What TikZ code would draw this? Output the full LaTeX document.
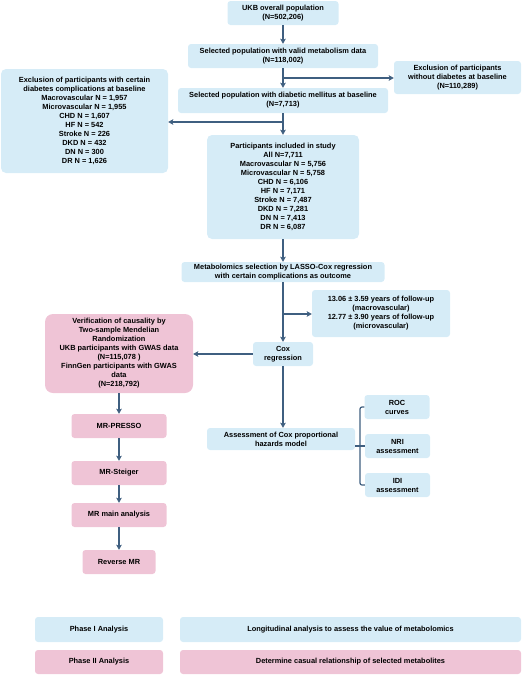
\documentclass[tikz,border=0pt]{standalone}
\usepackage{fontspec}
\setmainfont{Liberation Sans}
\usetikzlibrary{arrows.meta}
\definecolor{boxblue}{HTML}{D6ECF7}
\definecolor{boxpink}{HTML}{EFC4D6}
\definecolor{arrblue}{HTML}{3F5F80}

\begin{document}
\begin{tikzpicture}[x=1pt,y=-1pt,
    blu/.style={fill=boxblue,rounded corners=3pt,inner sep=1pt,align=center,
      font=\fontsize{7.4}{9}\selectfont\bfseries},
    pnk/.style={blu,fill=boxpink},
    arr/.style={draw=arrblue,line width=1.2pt,-{Stealth[length=5pt,width=5.5pt,inset=1pt]}},
    lin/.style={draw=arrblue,line width=1.2pt}]
  \useasboundingbox (0,0) rectangle (522,675);
  % phase I: cohort
  \node[blu,minimum width=111pt,minimum height=24pt] (ukb) at (283,13) {UKB overall population\\(N=502,206)};
  \node[blu,minimum width=190pt,minimum height=24pt] (valid) at (283,56) {Selected population with valid metabolism data\\(N=118,002)};
  \node[blu,minimum width=127pt,minimum height=33pt] (nodiab) at (457.5,77.5) {Exclusion of participants\\without diabetes at baseline\\(N=110,289)};
  \node[blu,minimum width=210pt,minimum height=25pt] (diab) at (283,100.5) {Selected population with diabetic mellitus at baseline\\(N=7,713)};
  \node[blu,rounded corners=5pt,minimum width=167pt,minimum height=104pt] (compl) at (84.5,121) {Exclusion of participants with certain\\diabetes complications at baseline\\Macrovascular N = 1,957\\Microvascular N = 1,955\\CHD N = 1,607\\HF N = 542\\Stroke N = 226\\DKD N = 432\\DN N = 300\\DR N = 1,626};
  \node[blu,rounded corners=5pt,minimum width=152pt,minimum height=104pt] (incl) at (283,187) {Participants included in study\\All N=7,711\\Macrovascular N = 5,756\\Microvascular N = 5,758\\CHD N = 6,106\\HF N = 7,171\\Stroke N = 7,487\\DKD N = 7,281\\DN N = 7,413\\DR N = 6,087};
  \node[blu,minimum width=203pt,minimum height=20pt] (lasso) at (283,272) {Metabolomics selection by LASSO-Cox regression\\with certain complications as outcome};
  \node[blu,minimum width=138pt,minimum height=47pt] (follow) at (381,313.5) {13.06 ± 3.59 years of follow-up\\(macrovascular)\\12.77 ± 3.90 years of follow-up\\(microvascular)};
  \node[blu,minimum width=60pt,minimum height=24pt] (cox) at (283,354) {Cox\\regression};
  \node[blu,minimum width=148pt,minimum height=22pt] (assess) at (281,439) {Assessment of Cox proportional\\hazards model};
  \node[blu,minimum width=65pt,minimum height=24pt] (roc) at (397,407) {ROC\\curves};
  \node[blu,minimum width=65pt,minimum height=24pt] (nri) at (397.5,446) {NRI\\assessment};
  \node[blu,minimum width=65pt,minimum height=24pt] (idi) at (397.5,485) {IDI\\assessment};
  % phase II: MR
  \node[pnk,rounded corners=8pt,minimum width=148pt,minimum height=79pt] (verif) at (119,353.5) {Verification of causality by\\Two-sample Mendelian\\Randomization\\UKB participants with GWAS data\\(N=115,078 )\\FinnGen participants with GWAS\\data\\(N=218,792)};
  \node[pnk,minimum width=95pt,minimum height=24pt] (presso) at (119,426) {MR-PRESSO};
  \node[pnk,minimum width=95pt,minimum height=24pt] (steiger) at (119,473) {MR-Steiger};
  \node[pnk,minimum width=95pt,minimum height=24pt] (mrmain) at (119,515) {MR main analysis};
  \node[pnk,minimum width=73pt,minimum height=24pt] (rev) at (119,562) {Reverse MR};
  % legend
  \node[blu,minimum width=128pt,minimum height=25pt] (ph1) at (99,629.5) {Phase I Analysis};
  \node[blu,minimum width=341pt,minimum height=25pt] (ph1t) at (350.5,629.5) {Longitudinal analysis to assess the value of metabolomics};
  \node[pnk,minimum width=128pt,minimum height=24pt] (ph2) at (99,662) {Phase II Analysis};
  \node[pnk,minimum width=341pt,minimum height=24pt] (ph2t) at (350.5,662) {Determine casual relationship of selected metabolites};
  % connectors
  \coordinate (b1) at (283,78);
  \coordinate (b2) at (283,122);
  \coordinate (b3) at (283,314);
  \draw[arr] (ukb.south)--(ukb.south |- valid.north);
  \draw[arr] (valid.south)--(valid.south |- diab.north);
  \draw[arr] (b1)--(b1 -| nodiab.west);
  \draw[arr] (diab.south)--(diab.south |- incl.north);
  \draw[arr] (b2)--(b2 -| compl.east);
  \draw[arr] (incl.south)--(incl.south |- lasso.north);
  \draw[arr] (lasso.south)--(lasso.south |- cox.north);
  \draw[arr] (b3)--(b3 -| follow.west);
  \draw[arr] (cox.west)--(cox.west -| verif.east);
  \draw[arr] (cox.south)--(cox.south |- assess.north);
  \draw[lin,rounded corners=2pt] (roc.west)-|(360,446)|-(idi.west);
  \draw[lin] (nri.west -| assess.east)--(nri.west);
  \draw[arr] (verif.south)--(verif.south |- presso.north);
  \draw[arr] (presso)--(steiger);
  \draw[arr] (steiger)--(mrmain);
  \draw[arr] (mrmain)--(rev);
\end{tikzpicture}
\end{document}
